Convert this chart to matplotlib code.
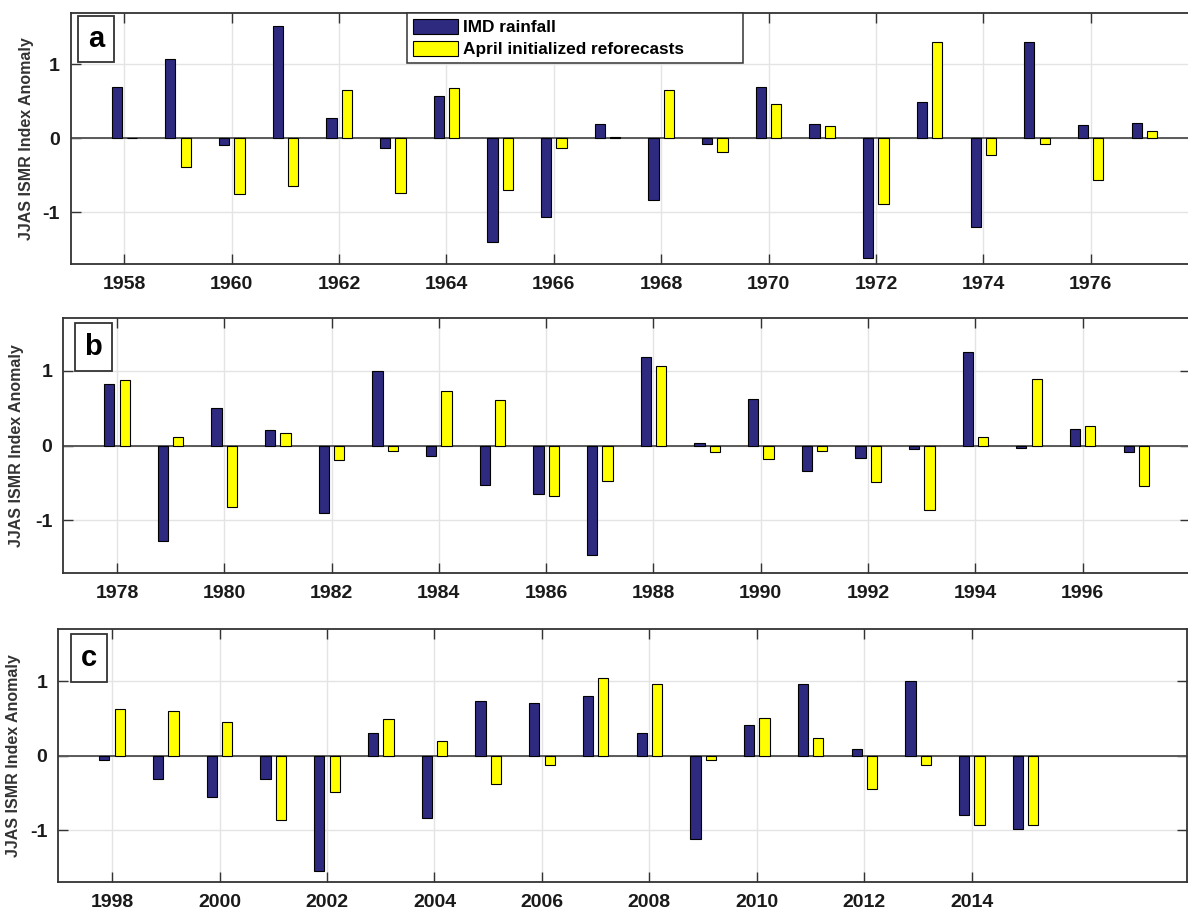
import matplotlib
matplotlib.use("Agg")
import matplotlib.pyplot as plt
from matplotlib.patches import Rectangle

plt.rcParams['font.family'] = ['Liberation Sans', 'DejaVu Sans']
plt.rcParams['font.weight'] = 'bold'

# ---------------- data ----------------
years_a = [1958, 1959, 1960, 1961, 1962, 1963, 1964, 1965, 1966, 1967,
           1968, 1969, 1970, 1971, 1972, 1973, 1974, 1975, 1976, 1977]
imd_a = [0.70, 1.07, -0.09, 1.52, 0.28, -0.13, 0.57, -1.40, -1.07, 0.19,
         -0.83, -0.08, 0.70, 0.19, -1.62, 0.49, -1.20, 1.30, 0.18, 0.21]
ref_a = [0.01, -0.39, -0.75, -0.645, 0.655, -0.745, 0.68, -0.695, -0.135, 0.02,
         0.655, -0.19, 0.46, 0.167, -0.885, 1.31, -0.23, -0.077, -0.564, 0.095]

years_b = [1978, 1979, 1980, 1981, 1982, 1983, 1984, 1985, 1986, 1987,
           1988, 1989, 1990, 1991, 1992, 1993, 1994, 1995, 1996, 1997]
imd_b = [0.82, -1.28, 0.50, 0.205, -0.906, 1.00, -0.147, -0.527, -0.652, -1.47,
         1.18, 0.027, 0.62, -0.335, -0.17, -0.05, 1.254, -0.03, 0.219, -0.085]
ref_b = [0.875, 0.12, -0.817, 0.17, -0.1875, -0.08, 0.732, 0.607, -0.68, -0.473,
         1.06, -0.085, -0.183, -0.076, -0.49, -0.866, 0.12, 0.884, 0.254, -0.545]

years_c = [1998, 1999, 2000, 2001, 2002, 2003, 2004, 2005, 2006, 2007,
           2008, 2009, 2010, 2011, 2012, 2013, 2014, 2015]
imd_c = [-0.054, -0.31, -0.55, -0.306, -1.554, 0.306, -0.838, 0.73, 0.703, 0.80,
         0.306, -1.12, 0.414, 0.964, 0.09, 1.005, -0.79, -0.99]
ref_c = [0.626, 0.60, 0.46, -0.86, -0.486, 0.495, 0.203, -0.378, -0.13, 1.04,
         0.96, -0.059, 0.514, 0.239, -0.446, -0.13, -0.93, -0.93]

xticks_a = [1958, 1960, 1962, 1964, 1966, 1968, 1970, 1972, 1974, 1976]
xticks_b = [1978, 1980, 1982, 1984, 1986, 1988, 1990, 1992, 1994, 1996]
xticks_c = [1998, 2000, 2002, 2004, 2006, 2008, 2010, 2012, 2014]
xlims = [(1957, 1978), (1977, 1998), (1997, 2018)]
yticks = [-1, 0, 1]
ytick_labels = ['-1', '0', '1']
panel_letters = ['a', 'b', 'c']
legend_labels = ['IMD rainfall', 'April initialized reforecasts']
ylabel = 'JJAS ISMR Index Anomaly'

# ---------------- style ----------------
W, H = 1188, 917
BLUE = '#2e2a80'
YELLOW = '#ffff00'
bar_w = 0.19
off = 0.143

fig = plt.figure(figsize=(W / 100, H / 100), dpi=100)


def fx(px):
    return px / W


def fy(py):
    return 1 - py / H


# axes pixel boxes: left, right, top, bottom
boxes = [(70.7, 1198.0, 12.7, 264.0),
         (63.3, 1190.0, 318.3, 572.7),
         (58.3, 1186.8, 629.3, 882.3)]
ylabel_x = [27, 17, 14]
letter_boxes = [(78, 114, 15.7, 62.3), (75, 111.7, 322.7, 370.7), (71, 107, 634.0, 681.7)]

datasets = [(years_a, imd_a, ref_a, xticks_a),
            (years_b, imd_b, ref_b, xticks_b),
            (years_c, imd_c, ref_c, xticks_c)]

for i, ((yrs, imd, ref, xt), (l, r, t, b)) in enumerate(zip(datasets, boxes)):
    ax = fig.add_axes([fx(l), fy(b), fx(r) - fx(l), fy(t) - fy(b)])
    ax.set_xlim(*xlims[i])
    ax.set_ylim(-1.7, 1.7)
    ax.set_axisbelow(True)
    ax.grid(True, color='#e4e4e4', linewidth=1.0)
    xb = [y - off for y in yrs]
    xy = [y + off for y in yrs]
    h1 = ax.bar(xb, imd, width=bar_w, color=BLUE, edgecolor='black', linewidth=0.8, zorder=3)
    h2 = ax.bar(xy, ref, width=bar_w, color=YELLOW, edgecolor='black', linewidth=0.8, zorder=3)
    ax.axhline(0, color='#5a5a5a', linewidth=1.4, zorder=2)
    ax.set_xticks(xt)
    ax.set_xticklabels([str(v) for v in xt])
    ax.set_yticks(yticks)
    ax.set_yticklabels(ytick_labels)
    ax.tick_params(axis='both', direction='in', length=7, width=1.0, color='#333333',
                   top=True, right=True, labelsize=14, labelcolor='#1a1a1a')
    ax.tick_params(axis='x', pad=8.5)
    ax.tick_params(axis='y', pad=8)
    for lab in ax.get_xticklabels() + ax.get_yticklabels():
        lab.set_fontweight('bold')
    for s in ax.spines.values():
        s.set_linewidth(1.3)
        s.set_color('#333333')
    fig.text(fx(ylabel_x[i]), fy((t + b) / 2), ylabel, rotation=90, ha='center', va='center',
             fontsize=11.5, fontweight='bold', color='#333333')
    lx0, lx1, ly0, ly1 = letter_boxes[i]
    fig.add_artist(Rectangle((fx(lx0), fy(ly1)), fx(lx1) - fx(lx0), fy(ly0) - fy(ly1),
                             transform=fig.transFigure, facecolor='white', edgecolor='#333333',
                             linewidth=1.3, zorder=5))
    fig.text(fx((lx0 + lx1) / 2), fy((ly0 + ly1) / 2), panel_letters[i], ha='center', va='center',
             fontsize=21, fontweight='bold', color='black', zorder=6)
    if i == 0:
        leg_l, leg_r, leg_t = 406.7, 743.3, 12.7
        aw = r - l
        ah = b - t
        bx0 = (leg_l - l) / aw
        by1 = 1 - (leg_t - t) / ah
        bw = (leg_r - leg_l) / aw
        leg = ax.legend([h1, h2], legend_labels, loc='upper left',
                        bbox_to_anchor=(bx0, by1 - 0.2, bw, 0.2), mode='expand',
                        borderaxespad=0, fancybox=False, framealpha=1, edgecolor='#333333',
                        prop={'weight': 'bold', 'size': 12.4}, handlelength=2.65,
                        handleheight=0.97, handletextpad=0.27, labelspacing=0.33,
                        borderpad=0.35)
        leg.get_frame().set_linewidth(1.1)
        leg.set_zorder(10)

fig.savefig('out.png', dpi=100)
